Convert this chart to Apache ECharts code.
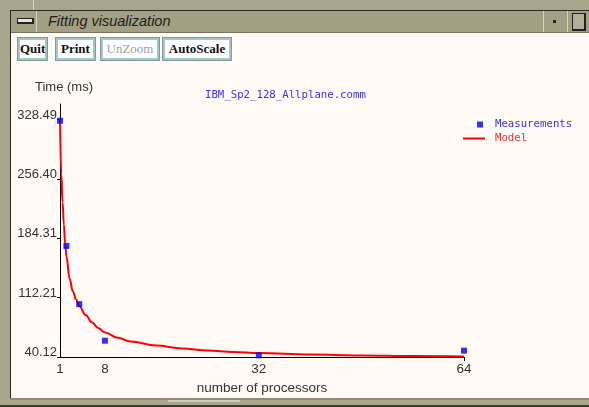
<!DOCTYPE html>
<html><head><meta charset="utf-8">
<script src="https://cdn.jsdelivr.net/npm/echarts@6/dist/echarts.min.js"></script>
<style>
html,body{margin:0;padding:0;}
body{width:589px;height:407px;position:relative;overflow:hidden;background:#a9a58d;font-family:'Liberation Sans',Arial,sans-serif;}
.abs{position:absolute;}
#topline{left:10px;top:10px;width:579px;height:1px;background:#2b2a22;}
#leftline{left:10px;top:10px;width:1px;height:389px;background:#2b2a22;}
#notchTop{left:33px;top:0;width:1px;height:10px;background:#d8d6c6;}
#titlebar{left:11px;top:11px;width:578px;height:21px;background:#a39f85;border-bottom:1px solid #77745f;}
#minIcon{left:17px;top:18px;width:14px;height:3px;border:1px solid #222;border-right-width:2px;border-bottom-width:2px;background:#e8e6d8;}
#sep1{left:36px;top:11px;width:1px;height:21px;background:#d6d4c4;}
#sep2{left:543px;top:11px;width:1px;height:21px;background:#d6d4c4;}
#sep3{left:567px;top:11px;width:1px;height:21px;background:#d6d4c4;}
#dot{left:553px;top:20px;width:3px;height:3px;background:#222;}
#maxIcon{left:572px;top:13px;width:11px;height:15px;border:1px solid #222;border-right-width:2px;border-bottom-width:2px;background:#b3af96;}
#wtitle{left:48px;top:11px;height:21px;line-height:21px;font-style:italic;font-size:14.5px;color:#1c1c1c;}
#content{left:11px;top:33px;width:578px;height:365px;background:#fffaf5;}
#bottom1{left:10px;top:398px;width:579px;height:2px;background:#8d8b7c;}
#bottom2{left:0;top:405px;width:589px;height:2px;background:#3a3a30;}
#slider{left:168px;top:400px;width:72px;height:2px;background:#cfcdbd;}
.btn{position:absolute;top:38px;height:18px;line-height:18px;border:2px solid #a9c6c6;outline:1px solid #7e9a9a;background:#ffffff;font-family:'Liberation Serif','Times New Roman',serif;font-weight:bold;font-size:13px;color:#111;text-align:center;box-sizing:content-box;}
#chart{position:absolute;left:0;top:0;width:589px;height:407px;}
</style></head>
<body>
<div class="abs" id="topline"></div>
<div class="abs" id="notchTop"></div>
<div class="abs" id="titlebar"></div>
<div class="abs" id="leftline"></div>
<div class="abs" id="minIcon"></div>
<div class="abs" id="sep1"></div>
<div class="abs" id="sep2"></div>
<div class="abs" id="sep3"></div>
<div class="abs" id="dot"></div>
<div class="abs" id="maxIcon"></div>
<div class="abs" id="wtitle">Fitting visualization</div>
<div class="abs" id="content"></div>
<div class="abs" id="bottom1"></div>
<div class="abs" id="slider"></div>
<div class="abs" id="bottom2"></div>
<div class="btn" style="left:18px;width:25px;">Quit</div>
<div class="btn" style="left:56px;width:35px;">Print</div>
<div class="btn" style="left:101px;width:54px;color:#a0a0a0;font-weight:normal;">UnZoom</div>
<div class="btn" style="left:163px;width:64px;">AutoScale</div>
<div id="chart"></div>
<script>
// Data
var measProcs = [1, 2, 4, 8, 32, 64];
var measTimes = [327.0, 175.0, 104.3, 59.9, 42.2, 47.8];
var modelProcs = [1, 1.2, 1.4, 1.6, 1.8, 2, 2.5, 3, 3.5, 4, 5, 6, 7, 8, 10, 12, 16, 20, 24, 28, 32, 40, 48, 56, 64];
var modelTimes = [327, 262, 228, 201, 178, 162, 135, 120, 110, 102, 91, 82, 75, 70, 63.5, 59, 54, 50.5, 48, 46.3, 45, 43.2, 42, 41.2, 40.7];
var yTickLabels = ['40.12', '112.21', '184.31', '256.40', '328.49'];
var xTickLabels = ['1', '8', '32', '64'];
var chartTitle = 'IBM_Sp2_128_Allplane.comm';
var xName = 'number of processors';
var yName = 'Time (ms)';
var seriesNames = ['Measurements', 'Model'];

var yTickValues = yTickLabels.map(Number);
var xTickValues = xTickLabels.map(Number);
var meas = measProcs.map(function (p, i) { return [p, measTimes[i]]; });
var model = modelProcs.map(function (p, i) { return [p, modelTimes[i]]; });

var chart = echarts.init(document.getElementById('chart'), null, {renderer: 'canvas'});
var mono = "'DejaVu Sans Mono', monospace";
var sans = "'Liberation Sans', Arial, sans-serif";
chart.setOption({
  animation: false,
  backgroundColor: 'transparent',
  title: {
    text: chartTitle, left: 205, top: 90, padding: 0,
    textStyle: {fontFamily: mono, fontSize: 10.7, fontWeight: 'normal', color: '#3434f2'}
  },
  legend: [
    {
      data: [{name: seriesNames[0], icon: 'rect'}], orient: 'vertical', left: 477, top: 119, padding: 0,
      itemWidth: 6, itemHeight: 6, selectedMode: false,
      textStyle: {fontFamily: mono, fontSize: 10.7, color: '#3434f2', padding: [0, 0, 0, 7]}
    },
    {
      data: [{name: seriesNames[1], icon: 'rect'}], orient: 'vertical', left: 463, top: 133, padding: 0,
      itemWidth: 22, itemHeight: 2, selectedMode: false,
      textStyle: {fontFamily: mono, fontSize: 10.7, color: '#f03030', padding: [0, 0, 0, 5]}
    }
  ],
  grid: {left: 60, right: 125, top: 104, bottom: 50, containLabel: false},
  xAxis: {
    type: 'value', min: 1, max: 64,
    name: xName, nameLocation: 'middle', nameGap: 23,
    nameTextStyle: {fontFamily: sans, fontSize: 13.5, color: '#333'},
    axisLine: {show: true, onZero: false, lineStyle: {color: '#000', width: 1}},
    axisTick: {show: true, customValues: [64], length: 4, lineStyle: {color: '#000'}},
    axisLabel: {customValues: xTickValues, fontFamily: sans, fontSize: 13.5, color: '#333', margin: 5,
      formatter: function (v) { return String(v); }},
    splitLine: {show: false}
  },
  yAxis: {
    type: 'value', min: 40.12, max: 347.31,
    name: yName, nameLocation: 'end', nameGap: 10,
    nameTextStyle: {fontFamily: sans, fontSize: 13, color: '#333', padding: [0, 0, 0, 8]},
    axisLine: {show: true, lineStyle: {color: '#000', width: 1}},
    axisTick: {show: true, customValues: yTickValues, length: 3, lineStyle: {color: '#000'}},
    axisLabel: {customValues: yTickValues, fontFamily: sans, fontSize: 13, color: '#333', margin: 3,
      verticalAlign: 'bottom', lineHeight: 9,
      formatter: function (v) {
        var best = 0;
        for (var i = 0; i < yTickValues.length; i++) {
          if (Math.abs(yTickValues[i] - v) < Math.abs(yTickValues[best] - v)) best = i;
        }
        return yTickLabels[best];
      }},
    splitLine: {show: false}
  },
  series: [
    {
      name: seriesNames[0], type: 'scatter', data: meas, symbol: 'rect', symbolSize: 6,
      itemStyle: {color: '#0000ff'}, z: 4
    },
    {
      name: seriesNames[1], type: 'line', data: model, smooth: 0.4, smoothMonotone: 'x',
      showSymbol: false, symbol: 'none',
      lineStyle: {color: '#ff0000', width: 2}, itemStyle: {color: '#ff0000'}, z: 3
    }
  ]
});
</script>
</body></html>
